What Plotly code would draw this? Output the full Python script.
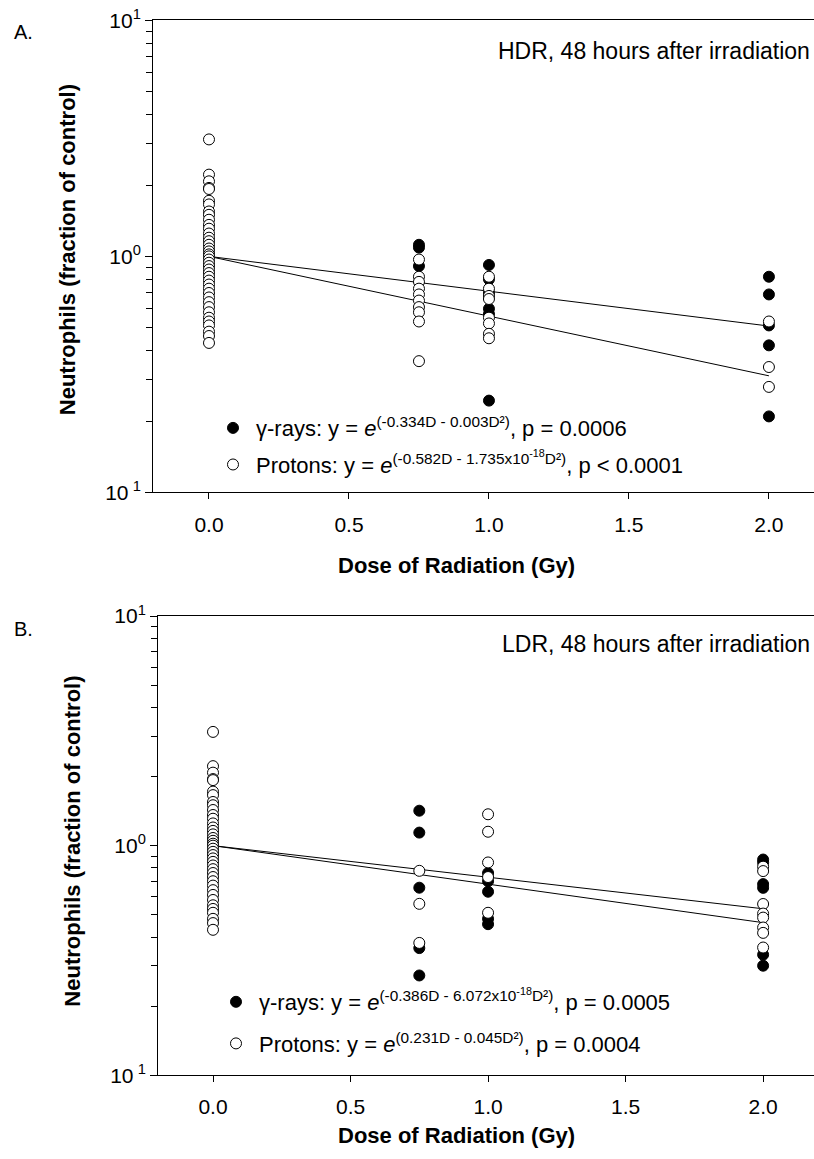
import plotly.graph_objects as go

# ---------------- data ----------------
dose_ticks = [0.0, 0.5, 1.0, 1.5, 2.0]
dose_tick_labels = ["0.0", "0.5", "1.0", "1.5", "2.0"]

# control (0 Gy) values, open circles
ctrl_values = [3.13, 2.22, 2.08, 1.95, 1.93, 1.72, 1.66, 1.55, 1.50, 1.43, 1.36,
               1.31, 1.25, 1.20, 1.16, 1.12, 1.08, 1.05, 1.02, 1.00, 0.97, 0.94,
               0.91, 0.88, 0.85, 0.82, 0.79, 0.76, 0.73, 0.70, 0.67, 0.64, 0.61,
               0.58, 0.55, 0.53, 0.51, 0.48, 0.46, 0.43]

# Panel A (HDR)
a_gamma_075 = [1.12, 1.09, 0.91]
a_gamma_100 = [0.92, 0.80, 0.70, 0.60, 0.57, 0.245]
a_gamma_200 = [0.82, 0.69, 0.51, 0.42, 0.21]
a_proton_075 = [0.97, 0.82, 0.78, 0.73, 0.69, 0.65, 0.61, 0.58, 0.53, 0.36]
a_proton_100 = [0.82, 0.73, 0.68, 0.66, 0.55, 0.52, 0.47, 0.45]
a_proton_200 = [0.53, 0.34, 0.28]
fit_dose = [0.0, 0.75, 1.0, 2.0]
a_gamma_fit = [1.0, 0.777, 0.714, 0.507]
a_proton_fit = [1.0, 0.646, 0.559, 0.312]

# Panel B (LDR)
b_gamma_075 = [1.42, 1.14, 0.656, 0.358, 0.272]
b_gamma_100 = [0.76, 0.70, 0.63, 0.48, 0.455]
b_gamma_200 = [0.87, 0.845, 0.68, 0.655, 0.335, 0.30]
b_proton_075 = [0.777, 0.558, 0.377]
b_proton_100 = [1.37, 1.15, 0.845, 0.73, 0.51]
b_proton_200 = [0.81, 0.775, 0.557, 0.506, 0.486, 0.44, 0.417, 0.36]
b_gamma_fit = [1.0, 0.749, 0.680, 0.462]
b_proton_fit = [1.0, 0.789, 0.729, 0.531]

y_tickvals = [0.1, 1, 10]
y_ticktext = ["10<sup>\u00a01</sup>", "10<sup>0</sup>", "10<sup>1</sup>"]
y_minor = [0.2, 0.3, 0.4, 0.5, 0.6, 0.7, 0.8, 0.9, 2, 3, 4, 5, 6, 7, 8, 9]

leg_gamma_a = "\u03b3-rays: y = <i>e</i><sup>(-0.334D - 0.003D\u00b2)</sup>, p = 0.0006"
leg_proton_a = "Protons: y = <i>e</i><sup>(-0.582D - 1.735x10<sup>-18</sup>D\u00b2)</sup>, p < 0.0001"
leg_gamma_b = "\u03b3-rays: y = <i>e</i><sup>(-0.386D - 6.072x10<sup>-18</sup>D\u00b2)</sup>, p = 0.0005"
leg_proton_b = "Protons: y = <i>e</i><sup>(0.231D - 0.045D\u00b2)</sup>, p = 0.0004"

# ---------------- figure ----------------
W, H = 814, 1159
FONT = "Liberation Sans, Arial, sans-serif"

def px_x(p):
    return p / W

def py(ref_y):
    # vertical pixel position in the photographed picture -> paper fraction
    page = (ref_y - 14.4) / 0.976
    return 1 - page / H

fig = go.Figure()

def expand(groups):
    xs, ys = [], []
    for d, vals in groups:
        xs += [d] * len(vals)
        ys += vals
    return xs, ys

def add_panel(xa, ya, legend, gamma_groups, proton_groups, gfit, pfit, gname, pname):
    for f in (gfit, pfit):
        fig.add_trace(go.Scatter(x=fit_dose, y=f, mode="lines", xaxis=xa, yaxis=ya,
                                 line=dict(color="black", width=1), showlegend=False,
                                 hoverinfo="skip"))
    gx, gy = expand(gamma_groups)
    fig.add_trace(go.Scatter(x=gx, y=gy, mode="markers", xaxis=xa, yaxis=ya,
                             name=gname, legend=legend, legendgroup=legend + "g",
                             marker=dict(symbol="circle", size=11, color="black",
                                         line=dict(color="black", width=1))))
    px_, py_ = expand(proton_groups)
    fig.add_trace(go.Scatter(x=px_, y=py_, mode="markers", xaxis=xa, yaxis=ya,
                             name=pname, legend=legend, legendgroup=legend + "p",
                             marker=dict(symbol="circle", size=11, color="white",
                                         line=dict(color="black", width=1))))

add_panel("x", "y", "legend",
          [(0.75, a_gamma_075), (1.0, a_gamma_100), (2.0, a_gamma_200)],
          [(0.0, ctrl_values), (0.75, a_proton_075), (1.0, a_proton_100), (2.0, a_proton_200)],
          a_gamma_fit, a_proton_fit, leg_gamma_a, leg_proton_a)
add_panel("x2", "y2", "legend2",
          [(0.75, b_gamma_075), (1.0, b_gamma_100), (2.0, b_gamma_200)],
          [(0.0, ctrl_values), (0.75, b_proton_075), (1.0, b_proton_100), (2.0, b_proton_200)],
          b_gamma_fit, b_proton_fit, leg_gamma_b, leg_proton_b)

xcommon = dict(tickvals=dose_ticks, ticktext=dose_tick_labels, ticks="outside",
               ticklen=6, tickwidth=1, tickcolor="black", showline=True,
               linecolor="black", linewidth=1, mirror=True, showgrid=False,
               zeroline=False, tickfont=dict(size=21, color="black"),
               ticklabelstandoff=7)
ycommon = dict(type="log", range=[-1, 1], tickvals=y_tickvals, ticktext=y_ticktext,
               ticks="outside", ticklen=7, tickwidth=1, tickcolor="black",
               showline=True, linecolor="black", linewidth=1, showgrid=False,
               zeroline=False, tickfont=dict(size=21, color="black"),
               minor=dict(tickvals=y_minor, ticks="outside", ticklen=6,
                          tickcolor="black", tickwidth=1, showgrid=False))

fig.update_layout(
    width=W, height=H, margin=dict(l=0, r=0, t=0, b=0),
    paper_bgcolor="white", plot_bgcolor="white",
    font=dict(family=FONT, color="black"),
    xaxis=dict(domain=[px_x(153), 1], range=[-0.2, 2.161], anchor="y", **xcommon),
    yaxis=dict(domain=[py(491.7), py(20.7)], anchor="x", **ycommon),
    xaxis2=dict(domain=[px_x(158), 1], range=[-0.2, 2.185], anchor="y2", **xcommon),
    yaxis2=dict(domain=[py(1073), py(615)], anchor="x2", **ycommon),
    legend=dict(x=px_x(210), y=py(406.5), xanchor="left", yanchor="top",
                font=dict(size=22, color="black"), bgcolor="rgba(0,0,0,0)",
                tracegroupgap=5, itemwidth=36),
    legend2=dict(x=px_x(213), y=py(979), xanchor="left", yanchor="top",
                 font=dict(size=22, color="black"), bgcolor="rgba(0,0,0,0)",
                 tracegroupgap=10, itemwidth=36),
)

ann = []
ann.append(dict(text="A.", x=px_x(12), y=py(32), xref="paper", yref="paper",
                xanchor="left", yanchor="middle", showarrow=False, font=dict(size=20)))
ann.append(dict(text="B.", x=px_x(12), y=py(628), xref="paper", yref="paper",
                xanchor="left", yanchor="middle", showarrow=False, font=dict(size=20)))
ann.append(dict(text="HDR, 48 hours after irradiation", x=px_x(812), y=py(51),
                xref="paper", yref="paper", xanchor="right", yanchor="middle",
                showarrow=False, font=dict(size=23)))
ann.append(dict(text="LDR, 48 hours after irradiation", x=px_x(812), y=py(643),
                xref="paper", yref="paper", xanchor="right", yanchor="middle",
                showarrow=False, font=dict(size=23)))
for yc, xc in ((250, 67), (840, 73)):
    ann.append(dict(text="<b>Neutrophils (fraction of control)</b>", x=px_x(xc), y=py(yc),
                    xref="paper", yref="paper", xanchor="center", yanchor="middle",
                    textangle=-90, showarrow=False, font=dict(size=22)))
for yc in (565, 1133):
    ann.append(dict(text="<b>Dose of Radiation (Gy)</b>", x=px_x(456), y=py(yc),
                    xref="paper", yref="paper", xanchor="center", yanchor="middle",
                    showarrow=False, font=dict(size=22)))
fig.update_layout(annotations=ann)

fig.write_html("out.html", config={"displayModeBar": False},
               post_script="document.body.style.margin='0';document.body.style.padding='0';document.body.style.overflow='hidden';")
